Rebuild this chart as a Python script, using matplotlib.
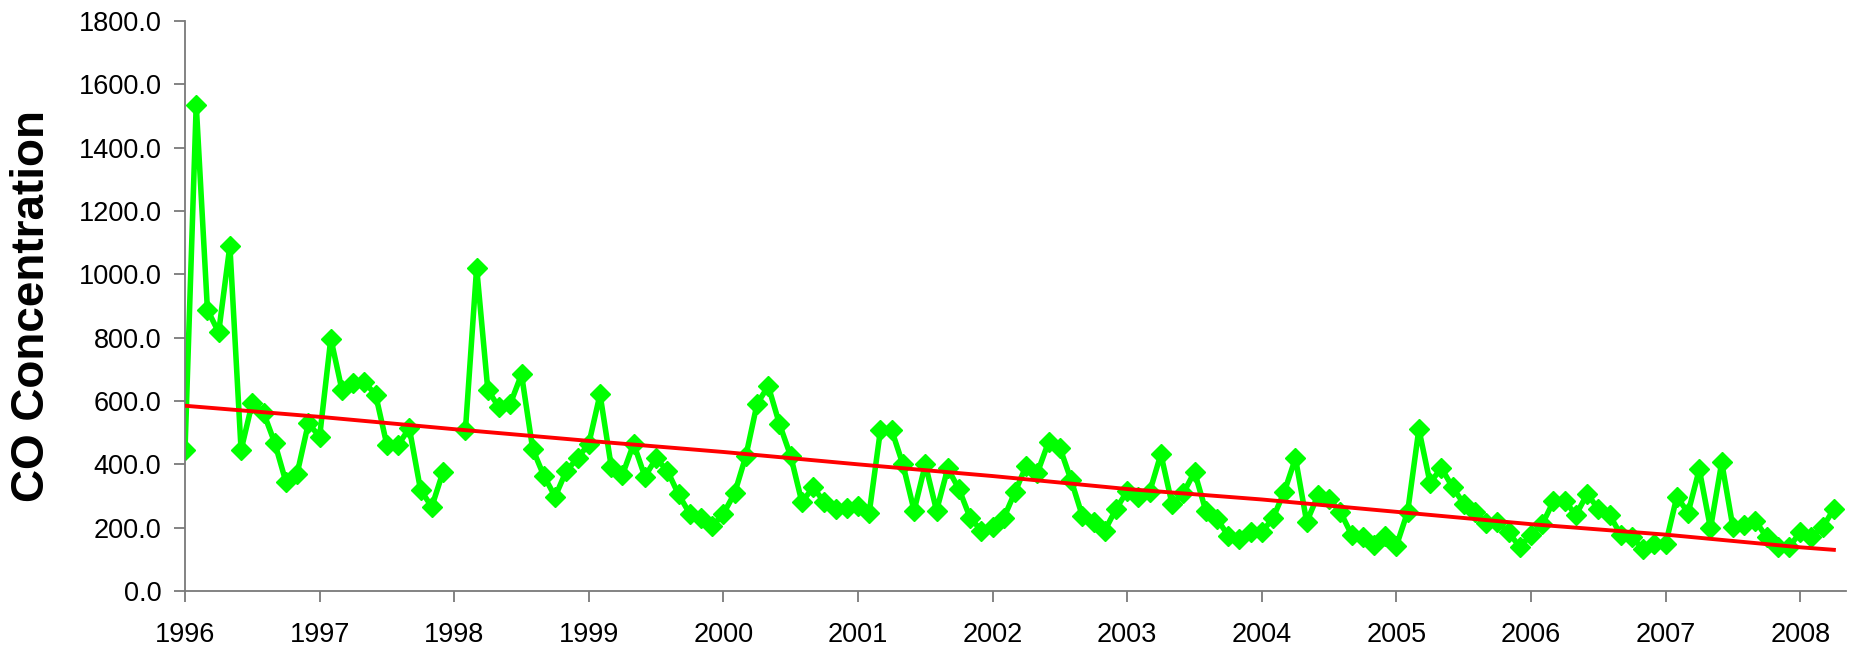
import numpy as np
import matplotlib
matplotlib.use("Agg")
import matplotlib.pyplot as plt

plt.rcParams['font.family'] = ['Liberation Sans', 'DejaVu Sans']

# monthly CO values, Jan..Dec per year (Jan 1998 missing)
years = list(range(1996, 2009))
co_1996 = [445, 1536, 888, 817, 1090, 445, 595, 563, 468, 344, 371, 530]
co_1997 = [487, 797, 634, 656, 660, 619, 461, 461, 514, 319, 266, 376]
co_1998 = [np.nan, 508, 1021, 634, 580, 591, 684, 448, 363, 298, 380, 419]
co_1999 = [465, 621, 393, 367, 465, 361, 419, 380, 305, 244, 231, 204]
co_2000 = [244, 309, 426, 591, 647, 527, 426, 280, 328, 280, 259, 263]
co_2001 = [267, 247, 508, 508, 400, 254, 400, 254, 387, 322, 231, 191]
co_2002 = [201, 231, 313, 396, 374, 472, 452, 350, 237, 218, 191, 259]
co_2003 = [315, 296, 313, 432, 274, 309, 376, 254, 228, 175, 165, 185]
co_2004 = [185, 231, 313, 419, 218, 302, 289, 250, 178, 169, 146, 175]
co_2005 = [143, 250, 511, 341, 389, 328, 276, 250, 214, 218, 185, 139]
co_2006 = [178, 211, 283, 285, 240, 306, 260, 240, 178, 169, 133, 148]
co_2007 = [148, 298, 247, 384, 198, 406, 201, 207, 222, 170, 138, 138]
co_2008 = [186, 170, 201, 259]

# trend line read at the start of each year, plus the last month
trend_x = [1996, 1997, 1998, 1999, 2000, 2001, 2002, 2003, 2004, 2005,
           2006, 2007, 2008, 2008.25]
trend_y = [585, 550, 511, 474, 439, 400, 363, 322, 289, 250, 211, 178, 138, 130]

all_years = [co_1996, co_1997, co_1998, co_1999, co_2000, co_2001, co_2002,
             co_2003, co_2004, co_2005, co_2006, co_2007, co_2008]
co = np.concatenate([np.array(v, dtype=float) for v in all_years])
t = 1996 + np.arange(len(co)) / 12.0

fig = plt.figure(figsize=(18.62, 6.47), dpi=100)
ax = fig.add_axes([185 / 1862, 1 - 591 / 647, (1846 - 185) / 1862, (591 - 21) / 647])

ax.plot(t, co, color='#00FF00', lw=4, marker='D', ms=10, mew=1,
        mec='#00FF00', mfc='#00FF00', zorder=2)
ax.plot(trend_x, trend_y, color='#FF0000', lw=2.8, zorder=3)

ax.set_xlim(1996, 2008.34)
ax.set_ylim(0, 1800)
ax.set_xticks(years)
ax.set_xticklabels([str(y) for y in years])
ax.set_yticks(np.arange(0, 1801, 200))
ax.set_yticklabels(['%.1f' % v for v in np.arange(0, 1801, 200)])

for s in ['top', 'right']:
    ax.spines[s].set_visible(False)
for s in ['left', 'bottom']:
    ax.spines[s].set_color('#7a7a7a')
    ax.spines[s].set_linewidth(1.3)

ax.tick_params(axis='both', direction='out', length=8, width=1.3,
               color='#7a7a7a', labelsize=19.5, labelcolor='black')
ax.tick_params(axis='y', pad=9)
ax.tick_params(axis='x', pad=14)

ax.set_ylabel('CO Concentration', fontsize=33, fontweight='bold', va='center')
ax.yaxis.set_label_coords(-0.092, 0.5)

fig.savefig('out.png', dpi=100)
